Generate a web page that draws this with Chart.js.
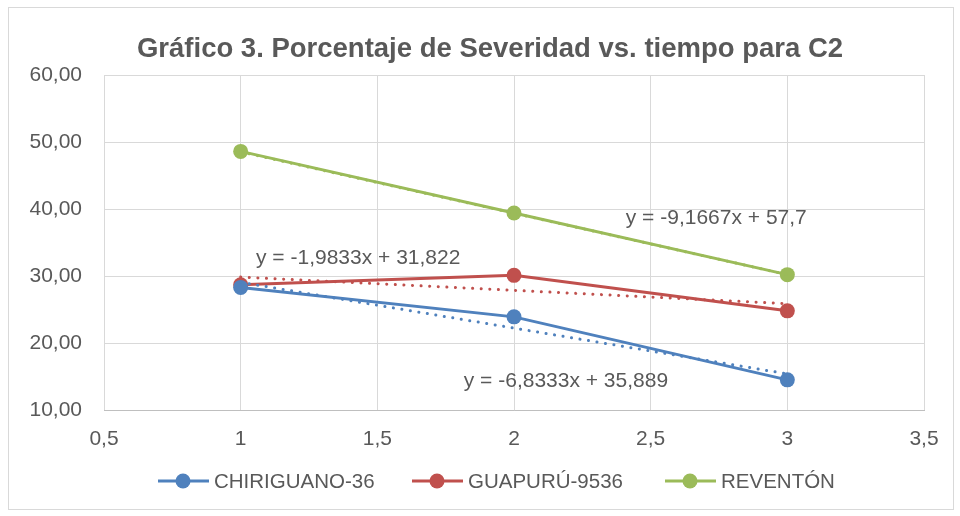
<!DOCTYPE html>
<html>
<head>
<meta charset="utf-8">
<script src="https://cdn.jsdelivr.net/npm/chart.js@4.4.1/dist/chart.umd.min.js"></script>
<style>
  html, body { margin: 0; padding: 0; background: #fff; }
  #wrap { width: 960px; height: 516px; }
</style>
</head>
<body>
<div id="wrap"><canvas id="chart" width="960" height="516"></canvas></div>
<script>
// Severity % over time, condition C2.
const TIMES = [1, 2, 3];
const CHIRIGUANO = [28.3, 23.9, 14.5];
const GUAPURU = [28.7, 30.1, 24.8];
const REVENTON = [48.6, 39.4, 30.2];

// linear trendline end points (x = 1 and x = 3)
const TREND_X = [1, 3];
const TREND_CHIRIGUANO = [29.06, 15.39];
const TREND_GUAPURU = [29.84, 25.87];
const TREND_REVENTON = [48.53, 30.2];

const SERIES_NAMES = ["CHIRIGUANO-36", "GUAPURÚ-9536", "REVENTÓN"];
const EQUATIONS = ["y = -6,8333x + 35,889", "y = -1,9833x + 31,822", "y = -9,1667x + 57,7"];

const X_TICKS = [0.5, 1, 1.5, 2, 2.5, 3, 3.5];
const Y_TICKS = [10, 20, 30, 40, 50, 60];

const TITLE = "Gráfico 3. Porcentaje de Severidad vs. tiempo para C2";

const COLORS = ["#4F81BD", "#C0504D", "#9BBB59"];
const TEXT = "#595959";
const FONT = "'Liberation Sans', Arial, sans-serif";

// where each equation label sits, in data units (centre of text)
const EQ_POS = [
  { x: 2.19, y: 14.3 },
  { x: 1.43, y: 32.6 },
  { x: 2.74, y: 38.6 },
];

const pts = (xs, ys) => xs.map((x, i) => ({ x, y: ys[i] }));
const fmt = (v, d) => v.toFixed(d).replace(".", ",");

function lineSet(i, data) {
  return {
    label: SERIES_NAMES[i],
    data: pts(TIMES, data),
    borderColor: COLORS[i],
    backgroundColor: COLORS[i],
    borderWidth: 3,
    pointRadius: 7.5,
    pointHoverRadius: 7.5,
    pointBorderWidth: 0,
    order: 2,
  };
}
function trendSet(i, data) {
  return {
    label: "trend " + SERIES_NAMES[i],
    data: pts(TREND_X, data),
    borderColor: COLORS[i],
    borderWidth: 3,
    borderDash: [0.1, 8.5],
    borderCapStyle: "round",
    pointRadius: 0,
    order: 1,
  };
}

const decorations = {
  id: "decorations",
  beforeDraw(chart) {
    const ctx = chart.ctx;
    ctx.save();
    ctx.fillStyle = "#fff";
    ctx.fillRect(0, 0, chart.width, chart.height);
    ctx.strokeStyle = "#D9D9D9";
    ctx.lineWidth = 1;
    ctx.strokeRect(8.5, 7.5, 945, 502);
    ctx.restore();
  },
  afterDraw(chart) {
    const ctx = chart.ctx;
    const xs = chart.scales.x, ys = chart.scales.y;
    ctx.save();
    // title
    ctx.fillStyle = TEXT;
    ctx.font = "bold 27.5px " + FONT;
    ctx.textAlign = "center";
    ctx.textBaseline = "middle";
    ctx.fillText(TITLE, 490, 49);
    // trendline equations
    ctx.font = "21px " + FONT;
    EQUATIONS.forEach((t, i) => {
      ctx.fillText(t, xs.getPixelForValue(EQ_POS[i].x), ys.getPixelForValue(EQ_POS[i].y));
    });
    // legend
    const items = [158, 412, 665];
    ctx.textAlign = "left";
    ctx.font = "20.5px " + FONT;
    items.forEach((lx, i) => {
      const ly = 481;
      ctx.strokeStyle = COLORS[i];
      ctx.lineWidth = 3;
      ctx.beginPath();
      ctx.moveTo(lx, ly);
      ctx.lineTo(lx + 51, ly);
      ctx.stroke();
      ctx.fillStyle = COLORS[i];
      ctx.beginPath();
      ctx.arc(lx + 25, ly, 7.5, 0, Math.PI * 2);
      ctx.fill();
      ctx.fillStyle = TEXT;
      ctx.fillText(SERIES_NAMES[i], lx + 56, ly + 1);
    });
    ctx.restore();
  },
};

new Chart(document.getElementById("chart"), {
  type: "line",
  data: {
    datasets: [
      lineSet(0, CHIRIGUANO), lineSet(1, GUAPURU), lineSet(2, REVENTON),
      trendSet(0, TREND_CHIRIGUANO), trendSet(1, TREND_GUAPURU), trendSet(2, TREND_REVENTON),
    ],
  },
  options: {
    responsive: false,
    animation: false,
    layout: { padding: { left: 20, right: 36, top: 75, bottom: 66 } },
    scales: {
      x: {
        type: "linear",
        min: X_TICKS[0],
        max: X_TICKS[X_TICKS.length - 1],
        afterBuildTicks: (s) => { s.ticks = X_TICKS.map((v) => ({ value: v })); },
        afterFit: (s) => { s.height = 40; },
        ticks: { color: TEXT, font: { family: FONT, size: 21 }, padding: 17, callback: (v) => String(v).replace(".", ",") },
        grid: { color: "#D9D9D9", lineWidth: 1, drawTicks: false },
        border: { color: "#BFBFBF", width: 1 },
      },
      y: {
        min: Y_TICKS[0],
        max: Y_TICKS[Y_TICKS.length - 1],
        afterBuildTicks: (s) => { s.ticks = Y_TICKS.map((v) => ({ value: v })); },
        afterFit: (s) => { s.width = 84; },
        ticks: { color: TEXT, font: { family: FONT, size: 21 }, padding: 22, callback: (v) => fmt(v, 2) },
        grid: { color: "#D9D9D9", lineWidth: 1, drawTicks: false },
        border: { display: false },
      },
    },
    plugins: {
      legend: { display: false },
      title: { display: false },
      tooltip: { enabled: false },
    },
  },
  plugins: [decorations],
});
</script>
</body>
</html>
